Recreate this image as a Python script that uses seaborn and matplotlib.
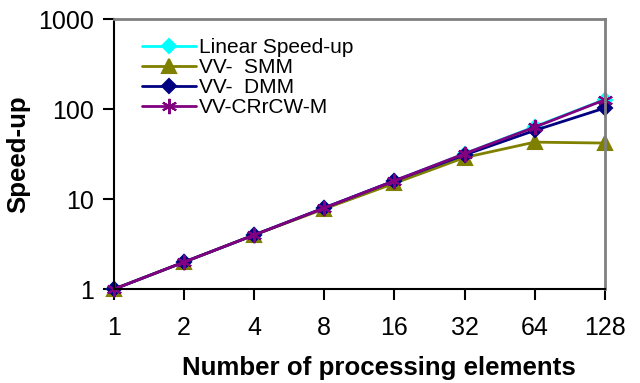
import numpy as np
import pandas as pd
import matplotlib
matplotlib.use('Agg')
import matplotlib.pyplot as plt
import seaborn as sns

# ── DATA ─────────────────────────────────────────────────────────────────────
pe_labels   = ['1', '2', '4', '8', '16', '32', '64', '128']
linear      = [1, 2, 4, 8, 16, 32, 64, 128]
vv_smm      = [1, 2, 4, 7.8, 15, 29, 43, 42]
vv_dmm      = [1, 2, 4, 8, 16, 31, 58, 103]
vv_crrcw_m  = [1, 2, 4, 8, 16, 32, 63, 127]

series_names = ['Linear Speed-up', 'VV-  SMM', 'VV-  DMM', 'VV-CRrCW-M']
series_vals  = [linear, vv_smm, vv_dmm, vv_crrcw_m]

rows = []
for name, vals in zip(series_names, series_vals):
    for i, v in enumerate(vals):
        rows.append({'pos': i, 'speedup': v, 'series': name})
df = pd.DataFrame(rows)

# ── STYLE ────────────────────────────────────────────────────────────────────
sns.set_style('ticks')
plt.rcParams['font.family'] = ['Liberation Sans', 'DejaVu Sans']
plt.rcParams['text.color'] = 'black'
plt.rcParams['axes.labelcolor'] = 'black'
plt.rcParams['xtick.color'] = 'black'
plt.rcParams['ytick.color'] = 'black'

palette = {
    'Linear Speed-up': '#00ffff',
    'VV-  SMM':        '#808000',
    'VV-  DMM':        '#000080',
    'VV-CRrCW-M':      '#800080',
}
markers = {
    'Linear Speed-up': 'D',
    'VV-  SMM':        '^',
    'VV-  DMM':        'D',
    'VV-CRrCW-M':      (6, 2, 0),
}
sizes = {'Linear Speed-up': 7, 'VV-  SMM': 10, 'VV-  DMM': 7, 'VV-CRrCW-M': 11}

fig = plt.figure(figsize=(6.4, 3.83), dpi=100)
ax = fig.add_axes([0.178, 0.245, 0.767, 0.705])

for name in series_names:
    sub = df[df['series'] == name]
    sns.lineplot(data=sub, x='pos', y='speedup', ax=ax, color=palette[name],
                 marker=markers[name], markersize=sizes[name],
                 markeredgecolor=palette[name], markeredgewidth=1.5,
                 linewidth=2, label=name)

ax.set_yscale('log')
ax.set_ylim(1, 1000)
ax.set_xlim(0, len(pe_labels) - 1)
ax.set_xticks(range(len(pe_labels)))
ax.set_xticklabels(pe_labels)
ax.set_yticks([1, 10, 100, 1000])
ax.set_yticklabels(['1', '10', '100', '1000'])
ax.yaxis.set_minor_locator(matplotlib.ticker.NullLocator())

ax.tick_params(axis='both', labelsize=18, length=8, width=1.5, direction='out',
               pad=6, colors='black')
ax.tick_params(axis='x', pad=11)
ax.set_xlabel('Number of processing elements', fontsize=18.6, fontweight='bold',
              labelpad=12, color='black', x=0.54)
ax.set_ylabel('Speed-up', fontsize=18.6, fontweight='bold', labelpad=6, color='black')

for side in ['left', 'bottom']:
    ax.spines[side].set_color('black')
    ax.spines[side].set_linewidth(1.5)
for side in ['top', 'right']:
    ax.spines[side].set_visible(True)
    ax.spines[side].set_color('#808080')
    ax.spines[side].set_linewidth(2)

for line in ax.get_lines():
    line.set_clip_on(False)

leg = ax.legend(loc='upper left', bbox_to_anchor=(0.04, 0.96), frameon=False,
                fontsize=15, handlelength=2.6, handletextpad=0.15,
                labelspacing=0.05, borderaxespad=0)
for t in leg.get_texts():
    t.set_color('black')

fig.savefig('out.png', dpi=100)
